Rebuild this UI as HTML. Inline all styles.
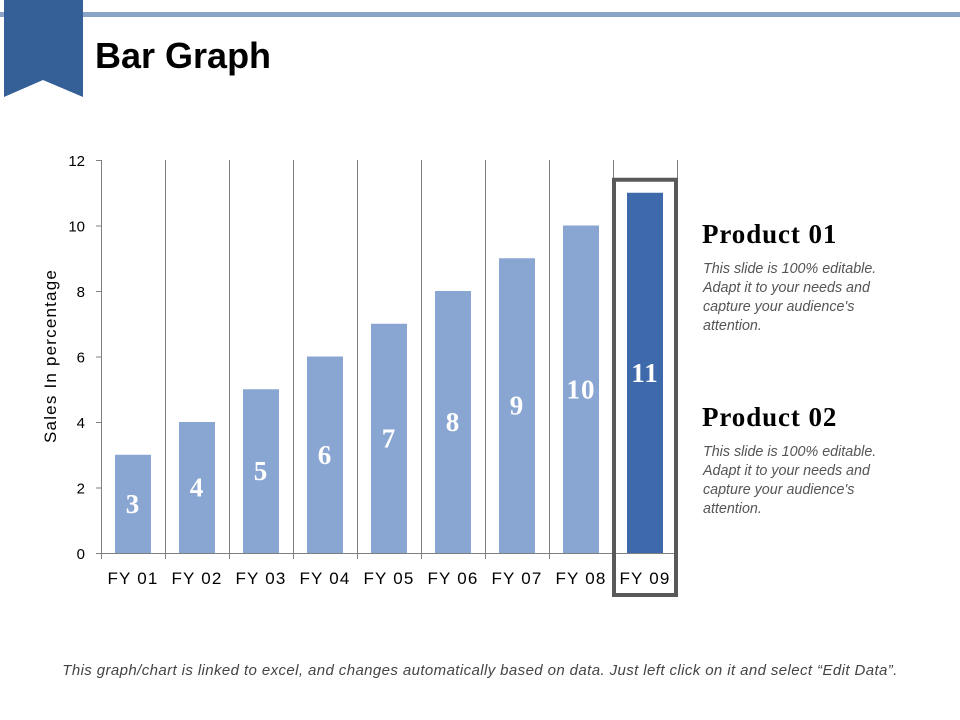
<!DOCTYPE html>
<html><head><meta charset="utf-8"><style>
body{margin:0;width:960px;height:720px;background:#fff;overflow:hidden;font-family:"Liberation Sans",sans-serif;}
.p{position:absolute;}
</style></head><body>
<div class="p" style="left:0;top:12px;width:960px;height:5px;background:#8aa3c9"></div>
<svg class="p" style="left:0;top:0" width="90" height="100"><polygon points="4,0 83,0 83,97 43,80 4,97" fill="#355f97"/></svg>
<div class="p" style="left:95px;top:35px;font-size:36px;font-weight:bold;color:#000">Bar Graph</div>
<svg class="p" style="left:0;top:0" width="960" height="720" id="chart"></svg>
<div class="p" style="left:702px;top:219px;font-family:'Liberation Serif',serif;font-weight:bold;font-size:27px;letter-spacing:0.9px">Product 01</div>
<div class="p" style="left:703px;top:260px;width:205px;font-style:italic;font-size:14.3px;line-height:19px;color:#555">This slide is 100% editable. Adapt it to your needs and capture your audience's attention.</div>
<div class="p" style="left:702px;top:402px;font-family:'Liberation Serif',serif;font-weight:bold;font-size:27px;letter-spacing:0.9px">Product 02</div>
<div class="p" style="left:703px;top:443px;width:205px;font-style:italic;font-size:14.3px;line-height:19px;color:#555">This slide is 100% editable. Adapt it to your needs and capture your audience's attention.</div>
<div class="p" style="left:0;width:960px;top:662px;text-align:center;font-style:italic;font-size:15px;letter-spacing:0.4px;color:#444">This graph/chart is linked to excel, and changes automatically based on data. Just left click on it and select “Edit Data”.</div>
<script>
const categories=["FY 01","FY 02","FY 03","FY 04","FY 05","FY 06","FY 07","FY 08","FY 09"];
const values=[3,4,5,6,7,8,9,10,11];
const yTicks=[0,2,4,6,8,10,12];
const highlightIndex=8;
const svg=document.getElementById('chart');const NS="http://www.w3.org/2000/svg";
const x0=101,x1=677,y0=553,y1=160,ymax=12;
const bw=(x1-x0)/categories.length;
const ys=v=>y0-(v/ymax)*(y0-y1);
const xs=i=>x0+i*bw;
function mk(t,a,txt){const e=document.createElementNS(NS,t);for(const k in a)e.setAttribute(k,a[k]);if(txt!=null)e.textContent=txt;svg.appendChild(e);return e;}
for(let i=0;i<=categories.length;i++){const l=mk('line',{x1:xs(i)+0.5,x2:xs(i)+0.5,y1:y1,y2:y0+6,stroke:'#7f7f7f','stroke-width':1});

}
const ax=mk('line',{x1:x0+0.5,x2:x0+0.5,y1:y1,y2:y0,stroke:'#7f7f7f'});


const bx=mk('line',{x1:x0-5,x2:x1,y1:y0+0.5,y2:y0+0.5,stroke:'#7f7f7f'});


yTicks.forEach(v=>{const tk=mk('line',{x1:x0-5,x2:x0,y1:ys(v)+0.5,y2:ys(v)+0.5,stroke:'#7f7f7f'});


const t=mk('text',{x:x0-16,y:ys(v)+6,'text-anchor':'end','font-size':15,fill:'#000'},v);

});
const yt=mk('text',{x:0,y:0,transform:'translate(56,356) rotate(-90)','text-anchor':'middle','font-size':17,'letter-spacing':'1.2'},'Sales In percentage');


values.forEach((v,i)=>{const cx=xs(i)+bw/2;
const r=mk('rect',{x:cx-18,y:ys(v),width:36,height:y0-ys(v),fill:i===highlightIndex?'#3e69ab':'#89a6d3'});


const t=mk('text',{x:cx,y:(ys(v)+y0)/2+9,'text-anchor':'middle','font-family':'Liberation Serif,serif','font-weight':'bold','font-size':27,'letter-spacing':'1',fill:'#fff'},v);


const c=mk('text',{x:cx,y:y0+31,'text-anchor':'middle','font-size':17,'letter-spacing':'1.2'},categories[i]);

});
const hb=mk('rect',{x:xs(highlightIndex)+1,y:ys(values[highlightIndex])-13,width:bw-2,height:y0+42-(ys(values[highlightIndex])-13),fill:'none',stroke:'#595959','stroke-width':4});


</script>
</body></html>
